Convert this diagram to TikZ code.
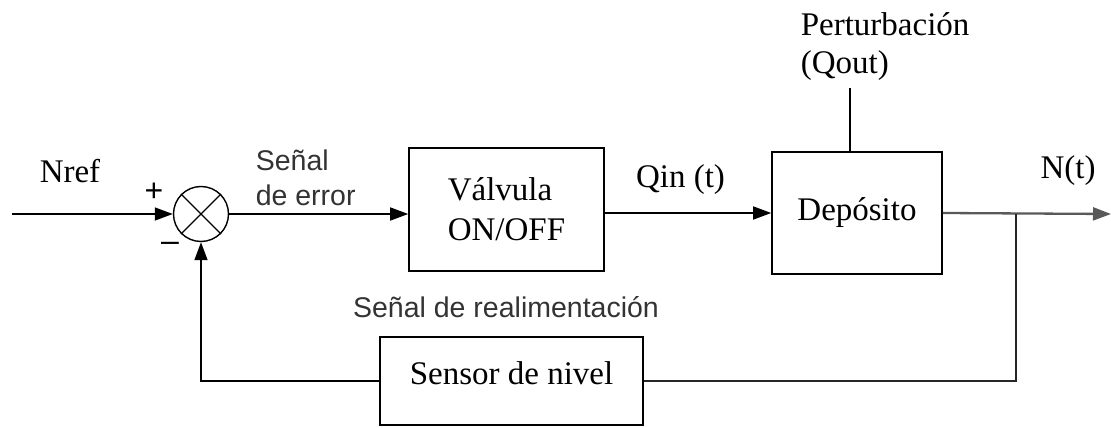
\documentclass[tikz,border=0pt]{standalone}
\usepackage{fontspec}
\setmainfont{Liberation Serif}
\newfontfamily\labsans{Liberation Sans}
\usetikzlibrary{arrows.meta}
\begin{document}
\begin{tikzpicture}[x=1pt,y=1pt,
  line width=1.6pt,
  sig/.style={-{Triangle[length=18pt,width=13pt]}},
  blk/.style={draw, line width=1.6pt, inner sep=0pt, font=\fontsize{33}{40}\selectfont},
  serif/.style={font=\fontsize{33}{38}\selectfont, inner sep=0pt},
  sans/.style={font=\labsans\fontsize{28.5}{35}\selectfont, text=black!80, inner sep=0pt}]
\useasboundingbox (0,0) rectangle (1111,428);
% blocks
\node[draw, circle, minimum size=55pt, inner sep=0pt, line width=1.4pt] (sum) at (201,214) {};
\draw[line width=1.4pt] (sum.north west) -- (sum.south east) (sum.north east) -- (sum.south west);
\node[blk, minimum width=195pt, minimum height=123pt, align=left] (valv) at (506.5,218.5) {Válvula\\ON/OFF};
\node[blk, minimum width=170pt, minimum height=122pt] (dep) at (857,215) {Depósito};
\node[blk, minimum width=263pt, minimum height=88pt, text height=23pt, text depth=15pt] (sensor) at (511.5,47) {Sensor de nivel};
% labels
\node[serif, anchor=base] (nref) at (70,245) {Nref};
\node[font=\labsans\fontsize{32}{32}\selectfont, inner sep=0pt] (plus) at (154,236) {+};
\node[font=\labsans\fontsize{32}{32}\selectfont, inner sep=0pt] (minus) at (170,181) {\textendash};
\node[sans, anchor=west, align=left] (err) at (255,250.5) {Señal\\de error};
\node[serif, anchor=base] (qin) at (680.5,240) {Qin (t)};
\node[serif, anchor=west, align=left] (pert) at (800,381) {Perturbación\\(Qout)};
\node[serif, anchor=base] (nt) at (1068,249) {N(t)};
\node[sans, anchor=base] (fb) at (506,110) {Señal de realimentación};
% coordinates
\coordinate (in) at (12,214);
\coordinate (out) at (1111,214);
\coordinate (br) at (1016,214);
\coordinate (pq) at (850,340);
% connectors
\draw[sig] (in) -- (sum.west);
\draw[sig] (sum.east) -- (valv.west |- sum.east);
\draw[sig] (valv.east |- dep.west) -- (dep.west);
\draw[sig, draw=black!65, line width=2.3pt] (dep.east) -- (out);
\draw (pq) -- (pq |- dep.north);
\draw[draw=black!85] (br) |- (sensor.east);
\draw[sig] (sensor.west) -| (sum.south);
\end{tikzpicture}
\end{document}
